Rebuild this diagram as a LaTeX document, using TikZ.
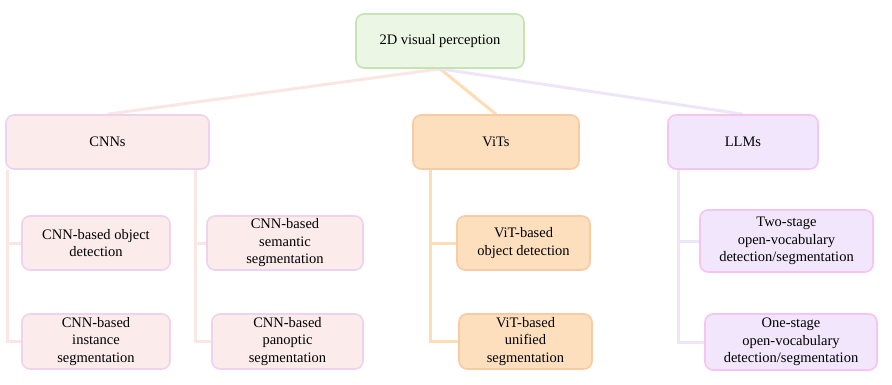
\documentclass[tikz,border=0pt]{standalone}
\usepackage{fontspec}
\setmainfont{Liberation Serif}
\usetikzlibrary{backgrounds}
\definecolor{rootfill}{HTML}{EBF6E4}
\definecolor{rootdraw}{HTML}{C6E3B3}
\definecolor{cnnfill}{HTML}{FBEBEB}
\definecolor{cnndraw}{HTML}{EED3F0}
\definecolor{cnnline}{HTML}{FAE6E3}
\definecolor{vitfill}{HTML}{FDDFBD}
\definecolor{vitdraw}{HTML}{F8CBA5}
\definecolor{vitline}{HTML}{FDDDB3}
\definecolor{llmfill}{HTML}{F1E6FB}
\definecolor{llmdraw}{HTML}{F7C4F2}
\definecolor{llmline}{HTML}{EEE6F8}
\tikzset{
  box/.style={rectangle, rounded corners=8pt, line width=1.6pt, inner sep=0pt, align=center,
    font=\fontsize{14.5}{17.5}\selectfont, text=black},
  rootbox/.style={box, fill=rootfill, draw=rootdraw},
  cnnbox/.style={box, fill=cnnfill, draw=cnndraw},
  vitbox/.style={box, fill=vitfill, draw=vitdraw},
  llmbox/.style={box, fill=llmfill, draw=llmdraw},
  conn/.style={line width=3pt},
}
\begin{document}
\begin{tikzpicture}[x=1pt,y=-1pt]
\useasboundingbox (0,0) rectangle (892,384);
\node[rootbox, minimum width=168pt, minimum height=54pt] (root) at (440,41) {2D visual perception};
\node[cnnbox, minimum width=203pt, minimum height=54pt] (cnn) at (107.5,142) {CNNs};
\node[vitbox, minimum width=166pt, minimum height=54pt] (vit) at (496,142) {ViTs};
\node[llmbox, minimum width=150pt, minimum height=54pt] (llm) at (743,142) {LLMs};
\node[cnnbox, minimum width=148pt, minimum height=54pt] (cod) at (96,243) {CNN-based object\\detection};
\node[cnnbox, minimum width=156pt, minimum height=54pt] (css) at (285,243) {CNN-based\\semantic\\segmentation};
\node[cnnbox, minimum width=148pt, minimum height=55pt] (cis) at (96,341.5) {CNN-based\\instance\\segmentation};
\node[cnnbox, minimum width=151pt, minimum height=55pt] (cps) at (287.5,341.5) {CNN-based\\panoptic\\segmentation};
\node[vitbox, minimum width=133pt, minimum height=54pt] (vod) at (523.5,243) {ViT-based\\object detection};
\node[vitbox, minimum width=133pt, minimum height=55pt] (vus) at (525.5,341.5) {ViT-based\\unified\\segmentation};
\node[llmbox, minimum width=173pt, minimum height=62pt] (two) at (786.5,241) {Two-stage\\open-vocabulary\\detection/segmentation};
\node[llmbox, minimum width=172pt, minimum height=56pt] (one) at (791,342) {One-stage\\open-vocabulary\\detection/segmentation};
\begin{scope}[on background layer]
\draw[conn, cnnline] (root.south) -- (cnn.north);
\draw[conn, vitline] (root.south) -- (vit.north);
\draw[conn, llmline] (root.south) -- (llm.north);
\draw[conn, cnnline] ([xshift=2pt]cnn.south west) |- (cod.west);
\draw[conn, cnnline] ([xshift=2pt]cnn.south west) |- (cis.west);
\draw[conn, cnnline] ([xshift=-14pt]cnn.south east) |- (css.west);
\draw[conn, cnnline] ([xshift=-14pt]cnn.south east) |- (cps.west);
\draw[conn, vitline] ([xshift=18pt]vit.south west) |- (vod.west);
\draw[conn, vitline] ([xshift=18pt]vit.south west) |- (vus.west);
\draw[conn, llmline] ([xshift=11pt]llm.south west) |- (two.west);
\draw[conn, llmline] ([xshift=11pt]llm.south west) |- (one.west);
\end{scope}
\end{tikzpicture}
\end{document}
